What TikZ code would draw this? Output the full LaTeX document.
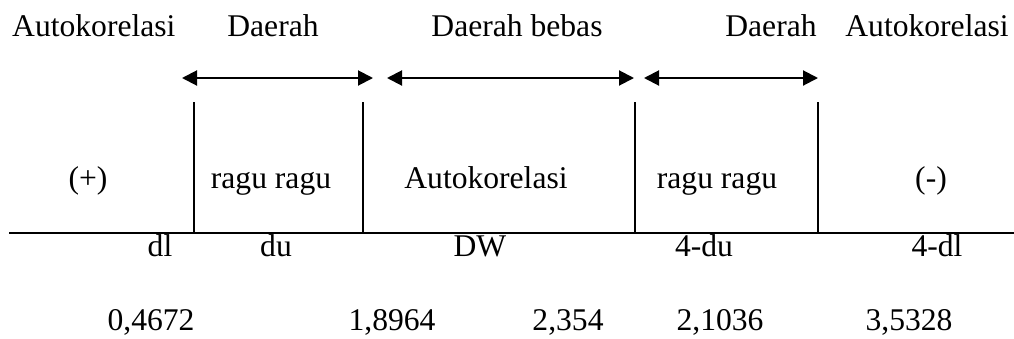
\documentclass[tikz,border=0pt]{standalone}
\usepackage{fontspec}
\setmainfont{Liberation Serif}
\usetikzlibrary{arrows.meta}
\tikzset{
  lbl/.style={anchor=base, inner sep=0pt, font=\fontsize{31.6}{38}\selectfont},
  rule/.style={line width=2pt},
  span/.style={line width=2pt, {Triangle[length=15pt,width=15pt]}-{Triangle[length=15pt,width=15pt]}, shorten <=0pt, shorten >=0pt},
}
\begin{document}
\begin{tikzpicture}[x=1pt,y=-1pt]
\useasboundingbox (0,0) rectangle (1014,338);

% top row: region headings
\node[lbl, anchor=base west] (h1) at (12,36) {Autokorelasi};
\node[lbl] (h2) at (273,36) {Daerah};
\node[lbl] (h3) at (517,36) {Daerah bebas};
\node[lbl] (h4) at (771,36) {Daerah};
\node[lbl] (h5) at (927,36) {Autokorelasi};

% span arrows
\coordinate (a1l) at (182,78); \coordinate (a1r) at (373,78);
\coordinate (a2l) at (387,78); \coordinate (a2r) at (634,78);
\coordinate (a3l) at (644,78); \coordinate (a3r) at (818,78);
\draw[span] (a1l) -- (a1r);
\draw[span] (a2l) -- (a2r);
\draw[span] (a3l) -- (a3r);

% axis and region boundaries
\coordinate (axl) at (9,233); \coordinate (axr) at (1014,233);
\draw[rule] (axl) -- (axr);
\foreach \x/\n in {194/b1,363/b2,635/b3,818/b4}{
  \coordinate (\n t) at (\x,102);
  \coordinate (\n b) at (\x,233);
  \draw[rule] (\n t) -- (\n b);
}

% middle row: region contents
\node[lbl] (m1) at (88,188) {(+)};
\node[lbl] (m2) at (271,188) {ragu ragu};
\node[lbl] (m3) at (486,188) {Autokorelasi};
\node[lbl] (m4) at (717,188) {ragu ragu};
\node[lbl] (m5) at (931,188) {(-)};

% bound labels under the axis
\node[lbl] (d1) at (160,256) {dl};
\node[lbl] (d2) at (276,256) {du};
\node[lbl] (d3) at (480,256) {DW};
\node[lbl] (d4) at (704,256) {4-du};
\node[lbl] (d5) at (937,256) {4-dl};

% numeric values
\node[lbl] (v1) at (151,330) {0,4672};
\node[lbl] (v2) at (392,330) {1,8964};
\node[lbl] (v3) at (568,330) {2,354};
\node[lbl] (v4) at (720,330) {2,1036};
\node[lbl] (v5) at (909,330) {3,5328};
\end{tikzpicture}
\end{document}
